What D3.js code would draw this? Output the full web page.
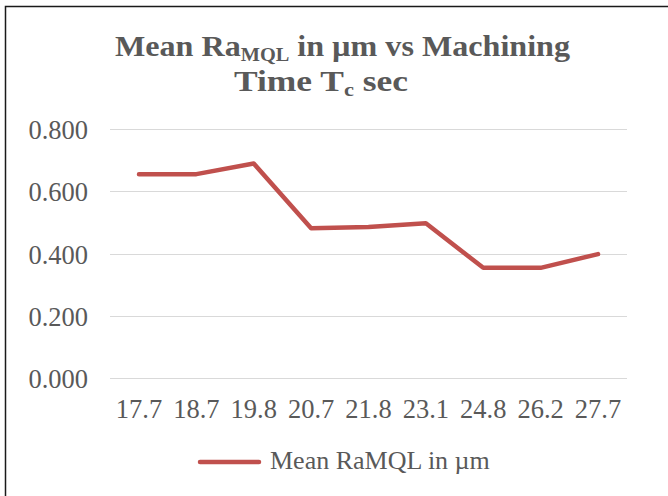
<!DOCTYPE html>
<html><head><meta charset="utf-8">
<script src="https://cdn.jsdelivr.net/npm/d3@7"></script>
<style>body{margin:0;background:#fff}svg{display:block}</style>
</head><body>
<svg id="c" width="668" height="496"></svg>
<script>
const categories = ["17.7","18.7","19.8","20.7","21.8","23.1","24.8","26.2","27.7"];
const values = [0.655,0.655,0.689,0.481,0.485,0.497,0.354,0.354,0.398];
const yTicks = [0,0.2,0.4,0.6,0.8];
const seriesName = "Mean RaMQL in µm";

const svg = d3.select("#c");
const font = "'Liberation Serif', serif";
const grey = "#595959";
const red = "#C0504D";

// frame (top and left edges visible)
svg.append("path").attr("d","M5.5,496 V6.5 H668").attr("fill","none").attr("stroke","#1a1a1a").attr("stroke-width",1.5);

const x = d3.scaleBand().domain(categories).range([110.3,626.7]);
const y = d3.scaleLinear().domain([0,0.8]).range([378,129]);

// gridlines
svg.append("g").selectAll("line").data(yTicks).join("line")
  .attr("x1",110).attr("x2",627)
  .attr("y1",d=>Math.round(y(d))+0.5).attr("y2",d=>Math.round(y(d))+0.5)
  .attr("stroke","#d9d9d9").attr("stroke-width",1);

// y axis labels
const yAxis = d3.axisLeft(y).tickValues(yTicks).tickFormat(d3.format(".3f")).tickSize(0).tickPadding(0);
const gy = svg.append("g").attr("transform","translate(88,0)").call(yAxis);
gy.select(".domain").remove();
gy.selectAll("text").attr("font-family",font).attr("font-size",26.5).attr("fill",grey).attr("dy","0.36em");

// x axis labels
const xAxis = d3.axisBottom(x).tickSize(0).tickPadding(0);
const gx = svg.append("g").attr("transform","translate(0,378)").call(xAxis);
gx.select(".domain").remove();
gx.selectAll("text").attr("font-family",font).attr("font-size",26.5).attr("fill",grey).attr("dy",null).attr("y",40);

// line
const line = d3.line().x((d,i)=>x(categories[i])+x.bandwidth()/2).y(d=>y(d));
svg.append("path").datum(values).attr("d",line).attr("fill","none")
  .attr("stroke",red).attr("stroke-width",4.5).attr("stroke-linejoin","round").attr("stroke-linecap","round");

// title
const t1 = svg.append("text").attr("x",115).attr("y",56)
  .attr("font-family",font).attr("font-weight","bold").attr("font-size",30).attr("fill",grey)
  .attr("textLength",455).attr("lengthAdjust","spacingAndGlyphs");
t1.append("tspan").text("Mean Ra");
t1.append("tspan").attr("font-size",19).attr("dy",5).text("MQL");
t1.append("tspan").attr("dy",-5).text(" in µm vs Machining");
const t2 = svg.append("text").attr("x",234).attr("y",91)
  .attr("font-family",font).attr("font-weight","bold").attr("font-size",30).attr("fill",grey)
  .attr("textLength",174).attr("lengthAdjust","spacingAndGlyphs");
t2.append("tspan").text("Time T");
t2.append("tspan").attr("font-size",19).attr("dy",5).text("c");
t2.append("tspan").attr("dy",-5).text(" sec");

// legend
const lg = svg.append("g");
lg.append("line").attr("x1",200).attr("x2",259).attr("y1",462).attr("y2",462)
  .attr("stroke",red).attr("stroke-width",4.5).attr("stroke-linecap","round");
lg.append("text").attr("x",270).attr("y",469).attr("font-family",font).attr("font-size",26)
  .attr("fill",grey).text(seriesName);
</script>
</body></html>
